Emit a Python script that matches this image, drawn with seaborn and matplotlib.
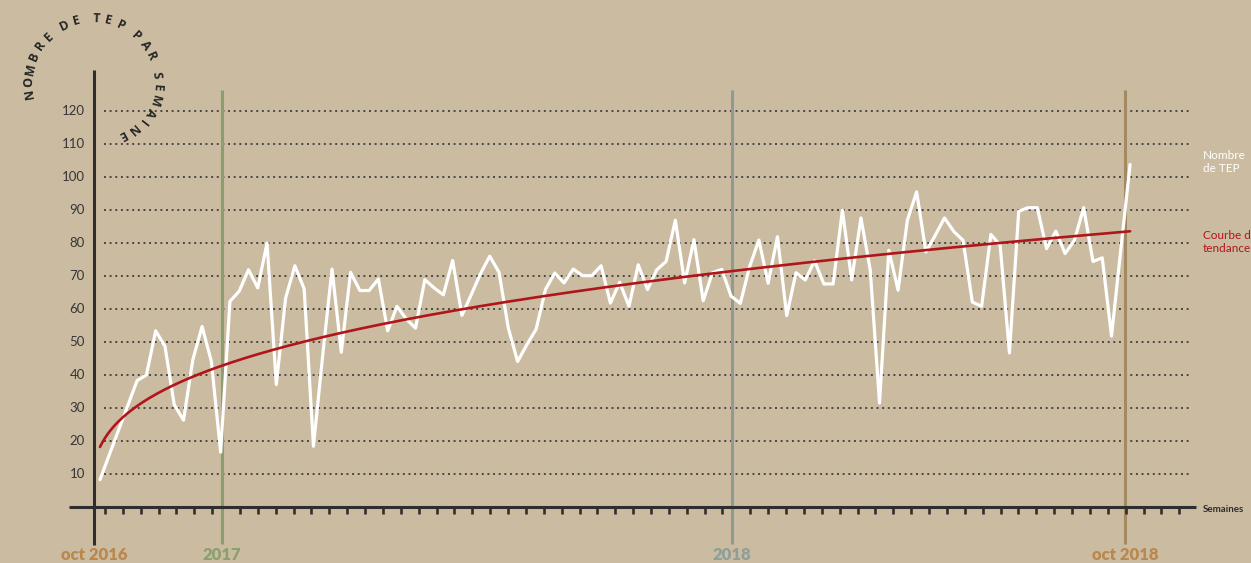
import numpy as np
import pandas as pd
import matplotlib
matplotlib.use("Agg")
import matplotlib.pyplot as plt
import seaborn as sns

# ---------------- data ----------------
tep_per_week = [8.3, 15.8, 23.3, 30.8, 38.3, 40.0, 53.4, 48.7, 31.0, 26.3,
                44.6, 54.7, 44.1, 16.6, 62.3, 65.4, 71.9, 66.4, 80.0, 37.1,
                63.3, 73.1, 66.1, 18.4, 46.0, 72.1, 46.9, 71.1, 65.6, 65.6,
                69.1, 53.4, 60.8, 57.0, 54.2, 68.9, 66.4, 64.3, 74.7, 58.1,
                64.3, 70.7, 76.0, 71.1, 54.2, 44.1, 49.2, 53.9, 65.9, 70.9,
                67.9, 72.1, 70.1, 70.1, 73.1, 61.8, 68.1, 60.8, 73.4, 65.9,
                71.9, 74.4, 86.9, 67.9, 81.0, 62.5, 71.0, 72.0, 63.9, 61.7,
                72.8, 80.9, 67.8, 81.9, 58.0, 71.0, 68.8, 74.6, 67.6, 67.6,
                89.9, 68.8, 87.6, 71.8, 31.5, 77.8, 65.7, 86.9, 95.5, 77.3,
                82.3, 87.6, 83.5, 80.8, 62.1, 60.8, 82.6, 79.3, 46.7, 89.6,
                90.7, 90.7, 78.3, 83.6, 76.8, 80.8, 90.7, 74.4, 75.5, 51.8,
                78.0, 103.8]
weeks = list(range(len(tep_per_week)))

# power-law trend curve: a * (week + 1) ** p
trend_a = 18.2
trend_p = 0.323

y_ticks = [10, 20, 30, 40, 50, 60, 70, 80, 90, 100, 110, 120]
year_labels = ["oct 2016", "2017", "2018", "oct 2018"]
year_weeks = [-0.65, 13.15, 68.1, 110.45]
year_label_colors = ["#b9884f", "#8c9f6f", "#8d9f99", "#b9884f"]
year_line_colors = [None, "#8a9e70", "#8b9c91", "#a48a62"]
title = "NOMBRE DE TEP PAR SEMAINE"

# ---------------- layout helpers (pixel geometry of the reference) ----------------
W, H = 1251, 563
PX_WEEK = 9.28      # pixels per week
X0 = 100            # pixel x of week 0
PX_UNIT = 3.3       # pixels per TEP
Y0 = 507            # pixel y of value 0


def wx(px):
    return (px - X0) / PX_WEEK


def vy(py):
    return (Y0 - py) / PX_UNIT


BG = "#cbbba1"
DARK = "#2e2e2e"

sns.set_theme(style="white", rc={"figure.facecolor": BG, "axes.facecolor": BG})
plt.rcParams["font.family"] = ["Lato", "DejaVu Sans"]

fig = plt.figure(figsize=(W / 100, H / 100), dpi=100)
ax = fig.add_axes([0, 0, 1, 1])
ax.set_xlim(wx(0), wx(W))
ax.set_ylim(vy(H), vy(0))
ax.axis("off")

# dotted horizontal gridlines
for v in y_ticks:
    ax.plot([wx(104), wx(1192)], [v, v], color="#474747", lw=1.4,
            linestyle=(0, (1, 1.9)), zorder=1)
    ax.text(wx(85), v, str(v), ha="right", va="center", fontsize=9.5,
            color="#363636", zorder=5)

# year marker lines + labels
for lab, wk, lc, tc in zip(year_labels, year_weeks, year_line_colors, year_label_colors):
    if lc is not None:
        ax.plot([wk, wk], [vy(90), vy(544)], color=lc, lw=2.2, zorder=2,
                solid_capstyle="butt")
    ax.text(wk, vy(555), lab, ha="center", va="center", fontsize=12,
            fontweight="heavy", color=tc, zorder=5)

# axes lines
ax.plot([year_weeks[0], year_weeks[0]], [vy(70), vy(545)], color=DARK, lw=2.2,
        zorder=3, solid_capstyle="butt")
ax.plot([wx(69), wx(1196)], [0, 0], color=DARK, lw=2.2, zorder=3,
        solid_capstyle="butt")

# minor tick marks along the x axis (three runs, ~2 weeks apart)
tick_step = 17.87 / PX_WEEK
tick_runs = [(wx(105), 7), (wx(240), 28), (wx(750.4), 25)]
for start, n in tick_runs:
    for k in range(n):
        t = start + k * tick_step
        ax.plot([t, t], [0, vy(514)], color=DARK, lw=1.9, zorder=3,
                solid_capstyle="butt")

ax.text(wx(1203), vy(509), "Semaines", ha="left", va="center", fontsize=7,
        fontweight="bold", color=DARK)

# data line
df = pd.DataFrame({"semaine": weeks, "tep": tep_per_week})
sns.lineplot(data=df, x="semaine", y="tep", color="white", lw=2.3, ax=ax,
             zorder=6, legend=False)

# trend curve
tw = np.linspace(0, weeks[-1], 400)
trend = pd.DataFrame({"semaine": tw, "tendance": trend_a * (tw + 1) ** trend_p})
sns.lineplot(data=trend, x="semaine", y="tendance", color="#b0151a", lw=1.9,
             ax=ax, zorder=7, legend=False)
ax.set_xlim(wx(0), wx(W))
ax.set_ylim(vy(H), vy(0))
ax.axis("off")

# right-hand labels (the reference itself is cut at the right edge)
ax.text(wx(1203), vy(162), "Nombre\nde TEP", ha="left", va="center",
        fontsize=8.5, color="white", linespacing=1.25)
ax.text(wx(1203), vy(242), "Courbe de\ntendance", ha="left", va="center",
        fontsize=8.5, color="#b0151a", linespacing=1.25)

# curved title along an arc
cx, cy, r = 93, 83, 64
ang = 190.0
letter_step, space_step = 11.3, 17.5
prev_space = False
first = True
for ch in title:
    if ch == " ":
        prev_space = True
        continue
    if not first:
        ang -= space_step if prev_space else letter_step
    first = False
    prev_space = False
    a = np.deg2rad(ang)
    rr = r if ang > -30 else r - (-30 - ang) * 0.15
    px = cx + rr * np.cos(a)
    py = cy - rr * np.sin(a)
    fig.text(px / W, 1 - py / H, ch, ha="center", va="center",
             rotation=ang - 90, rotation_mode="anchor", fontsize=9,
             fontweight="bold", color="#262626",
             family=["Open Sans", "DejaVu Sans"])

fig.savefig("out.png", dpi=100, facecolor=BG)
